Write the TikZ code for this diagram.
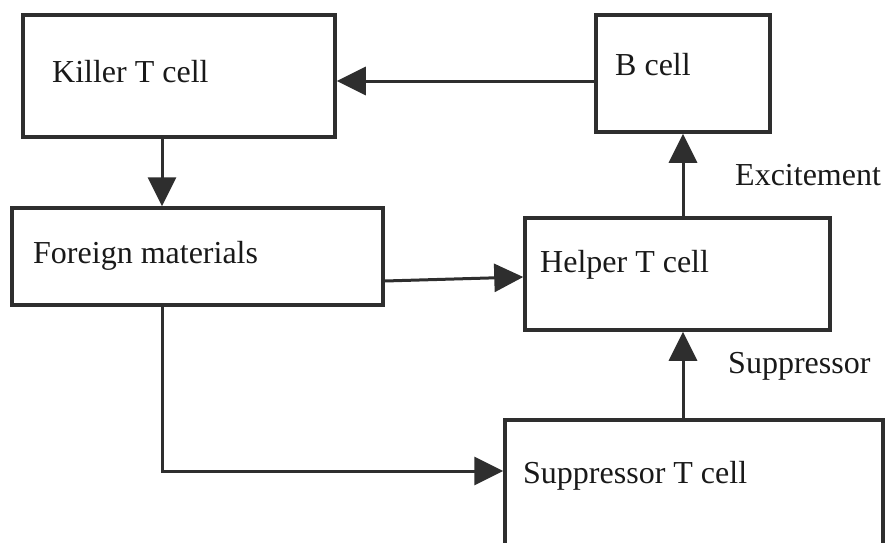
\documentclass[tikz,border=0pt]{standalone}
\usepackage{fontspec}
\setmainfont{Liberation Serif}
\usetikzlibrary{arrows.meta}
\definecolor{ink}{HTML}{2E2E2E}
\tikzset{
  box/.style={draw=ink, line width=3.5pt, rectangle, inner sep=0pt},
  lbl/.style={anchor=base west, inner sep=0pt, text=black!90, font=\fontsize{32}{38}\selectfont},
  arr/.style={draw=ink, line width=3pt, -{Triangle[length=29pt,width=28pt]}}
}
\begin{document}
\begin{tikzpicture}[x=1pt,y=-1pt]
\path[use as bounding box] (0,0) rectangle (886,543);
\clip (0,0) rectangle (886,543);
% boxes
\node[box, minimum width=312pt, minimum height=122pt] (killer) at (179,76) {};
\node[box, minimum width=174pt, minimum height=117pt] (bcell) at (683,73.5) {};
\node[box, minimum width=371pt, minimum height=97pt] (foreign) at (197.5,256.5) {};
\node[box, minimum width=305pt, minimum height=112pt] (helper) at (677.5,274) {};
\node[box, minimum width=378pt, minimum height=128pt] (supp) at (694,484) {};
% texts
\node[lbl] (killertxt) at (52,82) {Killer T cell};
\node[lbl] (btxt) at (615,75) {B cell};
\node[lbl] (foreigntxt) at (33,263) {Foreign materials};
\node[lbl] (helpertxt) at (540,272) {Helper T cell};
\node[lbl] (supptxt) at (523,483) {Suppressor T cell};
\node[lbl] (excite) at (735,185) {Excitement};
\node[lbl] (suppress) at (728,373) {Suppressor};
% connectors
\draw[arr] ([yshift=-7.5pt]bcell.west) coordinate (b1) -- (b1 -| killer.east);
\draw[arr] ([xshift=-17pt]killer.south) coordinate (k1) -- (k1 |- foreign.north);
\draw[arr] ([yshift=-24.5pt]foreign.east) -- ([yshift=-3pt]helper.west);
\draw[arr] (bcell.south |- helper.north) -- (bcell.south);
\draw[arr] (k1 |- foreign.south) |- ([yshift=13pt]supp.west);
\draw[arr] (bcell.south |- supp.north) -- (bcell.south |- helper.south);
\end{tikzpicture}
\end{document}
